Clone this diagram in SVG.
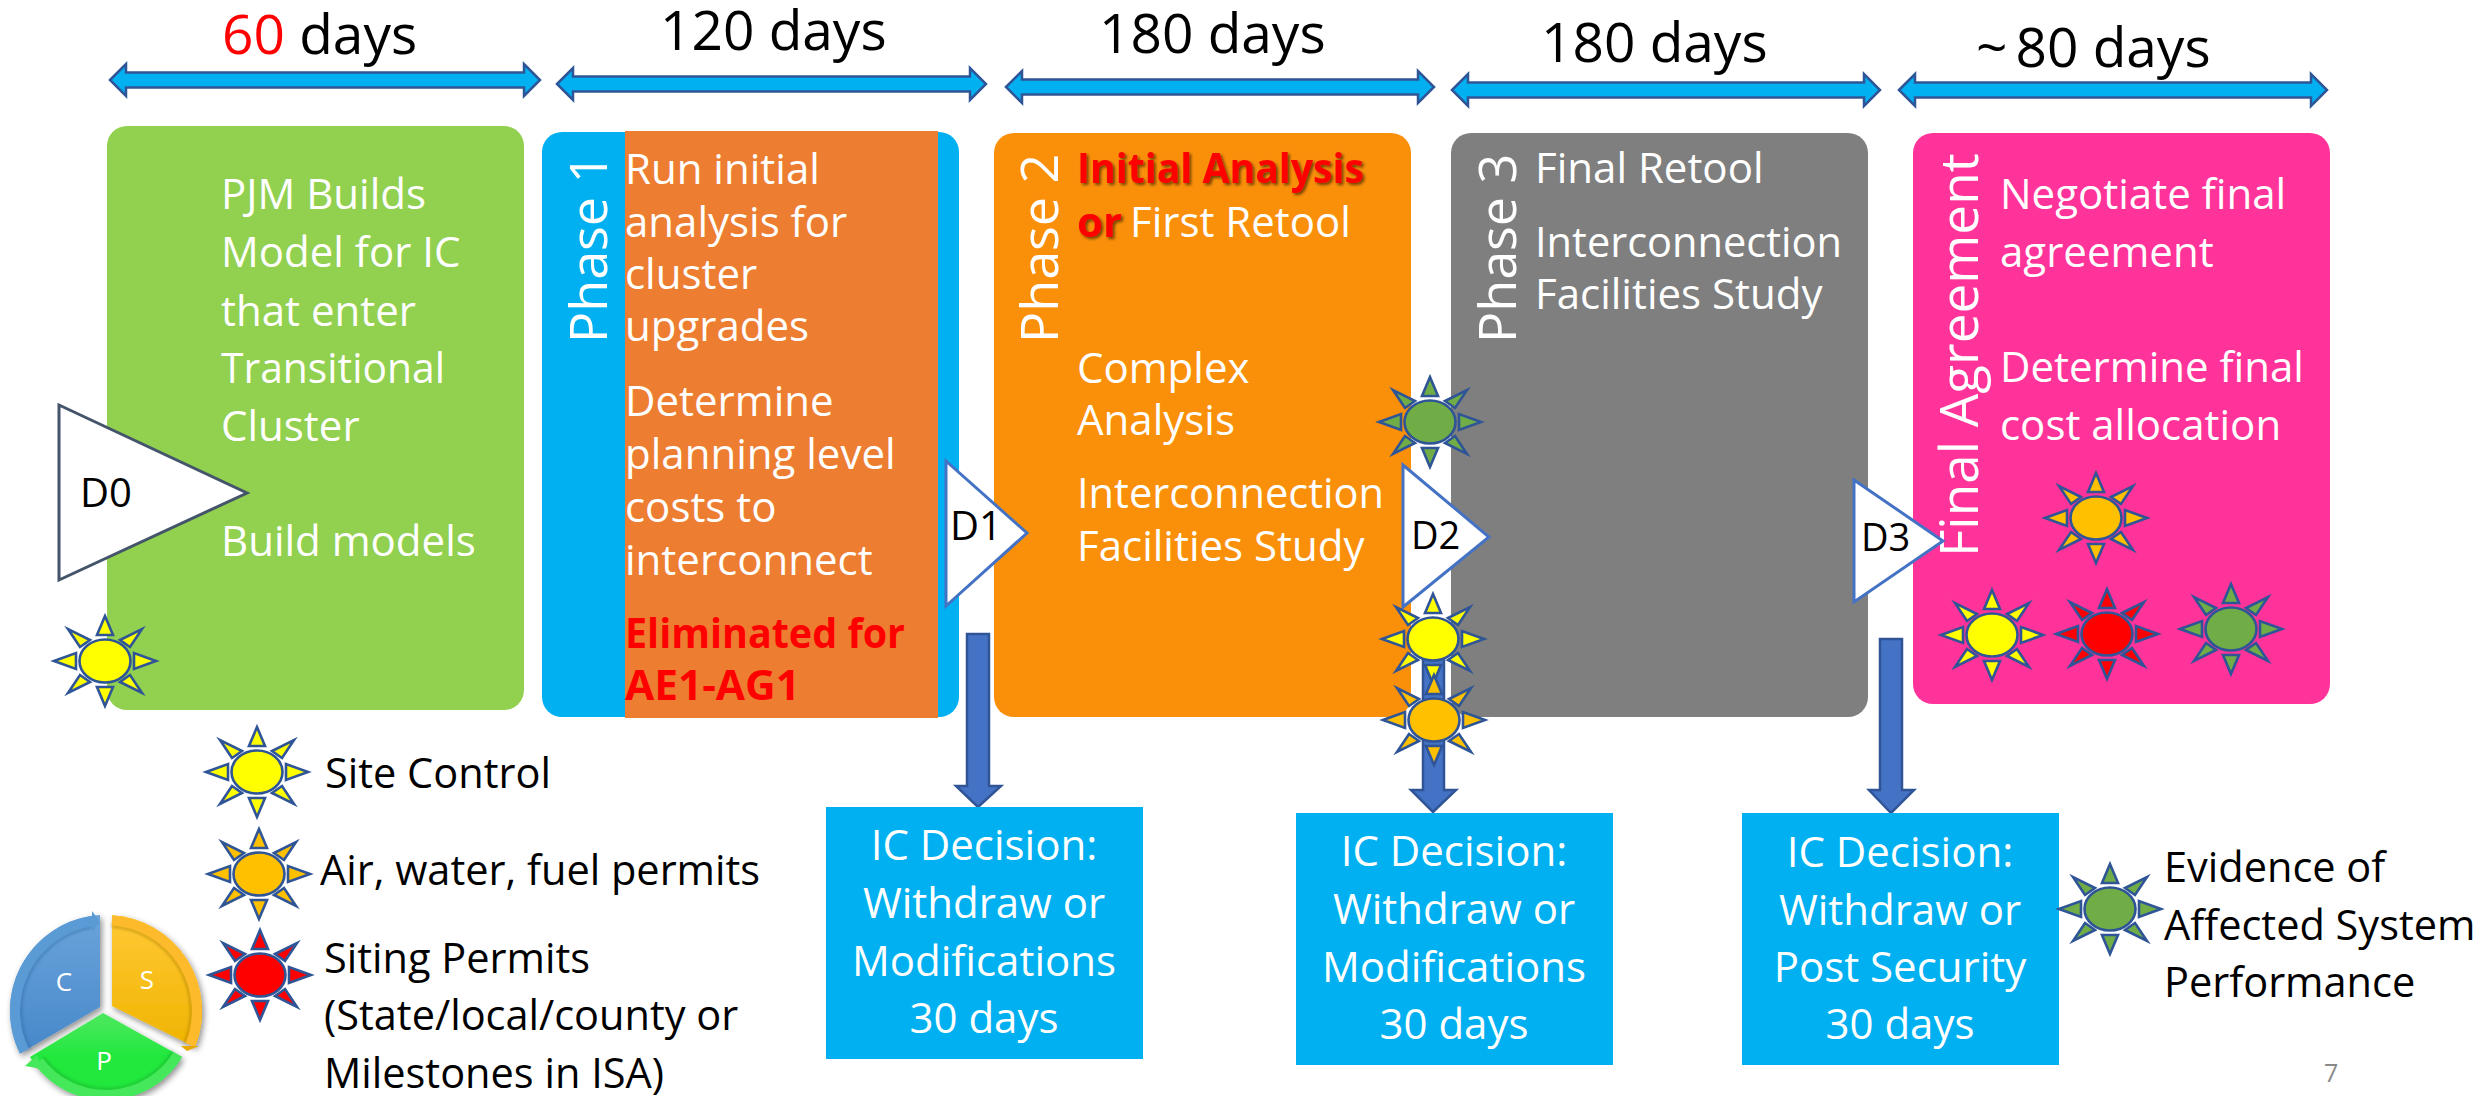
<svg xmlns="http://www.w3.org/2000/svg" width="2484" height="1096" viewBox="0 0 2484 1096">
<style>
text{font-family:"Open Sans","Noto Sans","Liberation Sans",sans-serif}
.b{font-size:42px;fill:#fff}
.h{font-size:55px;fill:#000}
.k{font-size:41.5px;fill:#000}
.d{font-size:38px;fill:#000}
.r{font-size:52px;fill:#fff}
.m{text-anchor:middle}
.red{font-size:42px;fill:#f00;font-weight:700}
.dbl{fill:#00b0f0;stroke:#2f5597;stroke-width:2.5}
.down{fill:#4472c4;stroke:#2f5597;stroke-width:2.5}
.tri{fill:#fff;stroke:#4472c4;stroke-width:3}
.sr{stroke:#2f5597;stroke-width:2.6;stroke-linejoin:miter}
.y{fill:#ff0}.o{fill:#ffc000}.e{fill:#f00}.g{fill:#70ad47}
.box{fill:#00b0f0}
.csp{font-size:26px;fill:#fff}
</style>
<defs>
<g id="sun" class="sr">
<ellipse rx="25.5" ry="21.5"/>
<polygon points="0,-45 -8,-26 8,-26"/><polygon points="0,45 -8,26 8,26"/>
<polygon points="-51,0 -29,-8 -29,8"/><polygon points="51,0 29,-8 29,8"/>
<polygon points="37,-32 25,-14 15,-21"/><polygon points="-37,-32 -25,-14 -15,-21"/>
<polygon points="37,32 25,14 15,21"/><polygon points="-37,32 -25,14 -15,21"/>
</g>
<filter id="ts" x="-10%" y="-20%" width="120%" height="150%"><feDropShadow dx="2" dy="2" stdDeviation="1.5" flood-color="#000" flood-opacity=".55"/></filter>
<filter id="cs" x="-20%" y="-20%" width="140%" height="140%"><feDropShadow dx="2" dy="3" stdDeviation="3" flood-color="#000" flood-opacity=".45"/></filter>
<filter id="inner" x="-20%" y="-20%" width="140%" height="140%"><feGaussianBlur stdDeviation="1.6"/></filter>
<linearGradient id="gc" x1="0" y1="0" x2="0" y2="1"><stop offset="0" stop-color="#6ba3db"/><stop offset="1" stop-color="#4688c9"/></linearGradient>
<linearGradient id="gs" x1="0" y1="0" x2="0" y2="1"><stop offset="0" stop-color="#ffc936"/><stop offset="1" stop-color="#f0b400"/></linearGradient>
<linearGradient id="gp" x1="0" y1="0" x2="0" y2="1"><stop offset="0" stop-color="#4ee85f"/><stop offset=".5" stop-color="#22e83e"/><stop offset="1" stop-color="#22e83e"/></linearGradient>
</defs>

<g id="connectors">
<path class="dbl" d="M110,80 L126,64 V72.500 H524 V64 L540,80 L524,96 V87.500 H126 V96 Z"/>
<path class="dbl" d="M557,84 L573,68 V76.500 H970 V68 L986,84 L970,100 V91.500 H573 V100 Z"/>
<path class="dbl" d="M1006,87 L1022,71 V79.500 H1418 V71 L1434,87 L1418,103 V94.500 H1022 V103 Z"/>
<path class="dbl" d="M1452,90 L1468,74 V82.500 H1864 V74 L1880,90 L1864,106 V97.500 H1468 V106 Z"/>
<path class="dbl" d="M1899,90 L1915,74 V82.500 H2311 V74 L2327,90 L2311,106 V97.500 H1915 V106 Z"/>
<path class="down" d="M967,634 H989 V786 H1001 L978,807 L956,786 H967 Z"/>
<path class="down" d="M1423,640 H1444 V790 H1456 L1433,812 L1411,790 H1423 Z"/>
<path class="down" d="M1880,639 H1902 V790 H1914 L1891,813 L1869,790 H1880 Z"/>
</g>

<g id="label-60"><text class="h" x="222" y="54"><tspan fill="#f00">60</tspan> days</text></g>
<g id="label-120"><text class="h" x="660" y="50">120 days</text></g>
<g id="label-180a"><text class="h" x="1099" y="53">180 days</text></g>
<g id="label-180b"><text class="h" x="1541" y="62">180 days</text></g>
<g id="label-80"><text class="h" x="1976" y="67">~<tspan dx="8">80 days</tspan></text></g>

<g id="node-model">
<rect x="107" y="126" width="417" height="584" rx="20" fill="#92d050"/>
<text class="b" x="221" y="209">PJM Builds</text>
<text class="b" x="221" y="267">Model for IC</text>
<text class="b" x="221" y="326">that enter</text>
<text class="b" x="221" y="383" textLength="224" lengthAdjust="spacingAndGlyphs">Transitional</text>
<text class="b" x="221" y="441">Cluster</text>
<text class="b" x="221" y="556">Build models</text>
</g>

<g id="node-phase1">
<rect x="542" y="132" width="417" height="585" rx="20" fill="#00b0f0"/>
<rect x="625" y="131" width="313" height="587" fill="#ed7d31"/>
<text class="r" transform="translate(607,343) rotate(-90)">Phase 1</text>
<text class="b" x="625" y="184">Run initial</text>
<text class="b" x="625" y="237">analysis for</text>
<text class="b" x="625" y="289">cluster</text>
<text class="b" x="625" y="341">upgrades</text>
<text class="b" x="625" y="416">Determine</text>
<text class="b" x="625" y="469">planning level</text>
<text class="b" x="625" y="522">costs to</text>
<text class="b" x="625" y="575">interconnect</text>
<text class="red" x="625" y="648" textLength="280" lengthAdjust="spacingAndGlyphs">Eliminated for</text>
<text class="red" x="625" y="700" textLength="175" lengthAdjust="spacingAndGlyphs">AE1-AG1</text>
</g>

<g id="node-phase2">
<rect x="994" y="133" width="417" height="584" rx="20" fill="#fa900a"/>
<text class="r" transform="translate(1058,343) rotate(-90)">Phase 2</text>
<text class="red" x="1077" y="183" textLength="287" lengthAdjust="spacingAndGlyphs" filter="url(#ts)">Initial Analysis</text>
<text class="red" x="1077" y="237" filter="url(#ts)">or</text>
<text class="b" x="1130" y="237">First Retool</text>
<text class="b" x="1077" y="383">Complex</text>
<text class="b" x="1077" y="435">Analysis</text>
<text class="b" x="1077" y="508" textLength="307" lengthAdjust="spacingAndGlyphs">Interconnection</text>
<text class="b" x="1077" y="561">Facilities Study</text>
</g>

<g id="node-phase3">
<rect x="1451" y="133" width="417" height="584" rx="20" fill="#7f7f7f"/>
<text class="r" transform="translate(1516,343) rotate(-90)">Phase 3</text>
<text class="b" x="1535" y="183">Final Retool</text>
<text class="b" x="1535" y="257" textLength="307" lengthAdjust="spacingAndGlyphs">Interconnection</text>
<text class="b" x="1535" y="309">Facilities Study</text>
</g>

<g id="node-final">
<rect x="1913" y="133" width="417" height="571" rx="20" fill="#ff3399"/>
<text class="r" transform="translate(1978,557) rotate(-90)" style="font-size:53px">Final Agreement</text>
<text class="b" x="2000" y="209">Negotiate final</text>
<text class="b" x="2000" y="267">agreement</text>
<text class="b" x="2000" y="382">Determine final</text>
<text class="b" x="2000" y="440">cost allocation</text>
</g>

<g id="node-d0"><polygon points="59,405 247,493 59,580" fill="#fff" stroke="#44546a" stroke-width="3"/><text class="d" style="font-size:40px" x="80" y="507">D0</text></g>
<g id="node-d1"><polygon class="tri" points="946,461 1027,533 946,606"/><text class="d" style="font-size:40px" x="950" y="540">D1</text></g>
<g id="node-d2"><polygon class="tri" points="1403,465 1489,537 1403,607"/><text class="d" x="1411" y="549">D2</text></g>
<g id="node-d3"><polygon class="tri" points="1854,480 1943,541 1854,602"/><text class="d" x="1861" y="551">D3</text></g>

<g id="node-box1"><rect class="box" x="826" y="807" width="317" height="252"/>
<text class="b m" x="984" y="860">IC Decision:</text><text class="b m" x="984" y="918">Withdraw or</text><text class="b m" x="984" y="976">Modifications</text><text class="b m" x="984" y="1033">30 days</text></g>
<g id="node-box2"><rect class="box" x="1296" y="813" width="317" height="252"/>
<text class="b m" x="1454" y="866">IC Decision:</text><text class="b m" x="1454" y="924">Withdraw or</text><text class="b m" x="1454" y="982">Modifications</text><text class="b m" x="1454" y="1039">30 days</text></g>
<g id="node-box3"><rect class="box" x="1742" y="813" width="317" height="252"/>
<text class="b m" x="1900" y="867">IC Decision:</text><text class="b m" x="1900" y="925">Withdraw or</text><text class="b m" x="1900" y="982">Post Security</text><text class="b m" x="1900" y="1039">30 days</text></g>

<g id="sun-d0"><use href="#sun" class="y" x="105" y="661"/></g>
<g id="sun-p2-green"><use href="#sun" class="g" x="1430" y="422"/></g>
<g id="sun-p2-yellow"><use href="#sun" class="y" x="1433" y="639"/></g>
<g id="sun-p2-orange"><use href="#sun" class="o" x="1434" y="720"/></g>
<g id="sun-fa-orange"><use href="#sun" class="o" x="2096" y="518"/></g>
<g id="sun-fa-yellow"><use href="#sun" class="y" x="1992" y="635"/></g>
<g id="sun-fa-red"><use href="#sun" class="e" x="2107" y="634"/></g>
<g id="sun-fa-green"><use href="#sun" class="g" x="2231" y="629"/></g>

<g id="legend-site"><use href="#sun" class="y" x="257" y="772"/><text class="k" x="325" y="788">Site Control</text></g>
<g id="legend-permits"><use href="#sun" class="o" x="259" y="874"/><text class="k" x="320" y="885">Air, water, fuel permits</text></g>
<g id="legend-siting"><use href="#sun" class="e" x="260" y="975"/>
<text class="k" x="324" y="973">Siting Permits</text><text class="k" x="324" y="1030">(State/local/county or</text><text class="k" x="324" y="1088">Milestones in ISA)</text></g>
<g id="legend-affected"><use href="#sun" class="g" x="2110" y="909"/>
<text class="k" x="2164" y="882">Evidence of</text><text class="k" x="2164" y="940">Affected System</text><text class="k" x="2164" y="997">Performance</text></g>

<g id="node-csp">
<g filter="url(#cs)">
<path d="M100,915 A96,96 0 0 0 20,1053.500 L100,1007 Z" fill="url(#gc)"/>
<path d="M112,915.200 A96,96 0 0 1 195,1047 L112,1006 Z" fill="url(#gs)"/>
<path d="M103,1013 L30,1057 A88.800,88.800 0 0 0 182,1057 Z" fill="url(#gp)"/>
</g>
<path d="M29.800,1048.700 A85,85 0 0 1 92,927" fill="none" stroke="#2f6aa3" stroke-width="2" opacity=".7" filter="url(#inner)"/>
<path d="M112,926.200 A85,85 0 0 1 184.800,1042.900" fill="none" stroke="#a87a00" stroke-width="2" opacity=".7" filter="url(#inner)"/>
<path d="M172.800,1051.400 A78,78 0 0 1 43.600,1057.800" fill="none" stroke="#17a52a" stroke-width="2" opacity=".7" filter="url(#inner)"/>
<path d="M24.400,1051.300 A91,91 0 0 1 92,921" fill="none" stroke="#5b9bd5" stroke-width="10"/>
<polygon points="92,911 100,922 92,933" fill="#5b9bd5"/>
<path d="M112,920.200 A91,91 0 0 1 190.400,1045" fill="none" stroke="#fdbb2c" stroke-width="10"/>
<polygon points="181,1046 199,1046 187,1051" fill="#e8a800"/>
<path d="M177.900,1054.500 A84,84 0 0 1 38.800,1061.400" fill="none" stroke="#45e85a" stroke-width="10"/>
<polygon points="25,1066 37,1055 42,1069" fill="#45e85a"/>
<text class="csp m" x="64" y="991">C</text>
<text class="csp m" x="147" y="989">S</text>
<text class="csp m" x="104" y="1070">P</text>
</g>

<g id="page-number"><text x="2324" y="1082" font-size="25" fill="#898989">7</text></g>
</svg>
